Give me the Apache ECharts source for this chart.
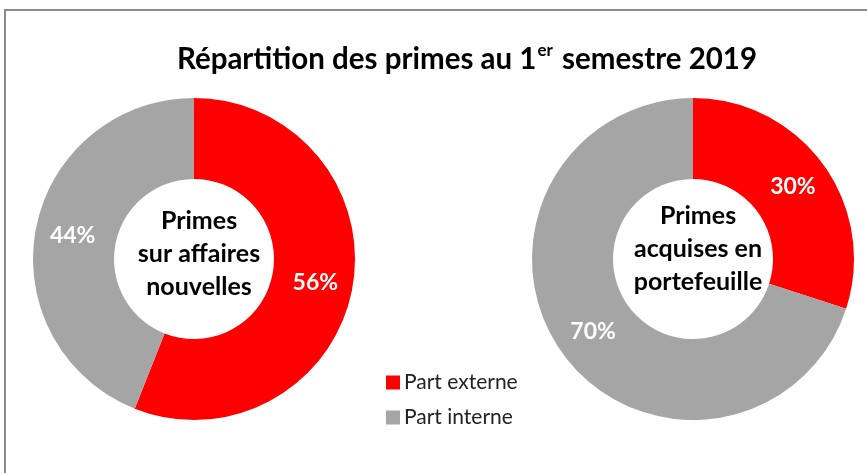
<!DOCTYPE html>
<html>
<head>
<meta charset="utf-8">
<script src="https://cdn.jsdelivr.net/npm/echarts@6/dist/echarts.min.js"></script>
<style>
  html, body { margin: 0; padding: 0; background: #fff; }
  #chart { width: 867px; height: 473px; }
</style>
</head>
<body>
<div id="chart"></div>
<script>
// données
const categories = ['Part externe', 'Part interne']
const nouvelles = [56, 44]
const portefeuille = [30, 70]
const colors = ['#FF0000', '#A5A5A5']

const FONT = 'Lato'

const chart = echarts.init(document.getElementById('chart'))

function donut(name, values, cx) {
  return {
    name: name,
    type: 'pie',
    center: [cx, 259],
    radius: [80, 161],
    startAngle: 90,
    clockwise: true,
    silent: true,
    label: {
      show: true,
      position: 'inside',
      formatter: '{c}%',
      color: '#fff',
      fontFamily: FONT,
      fontWeight: 'bold',
      fontSize: 23
    },
    labelLine: { show: false },
    itemStyle: { borderWidth: 0 },
    data: categories.map((c, i) => ({ name: c, value: values[i] }))
  }
}

const option = {
  color: colors,
  animation: false,
  title: [
    {
      text: '{a|Répartition des primes au 1}{s|er}{a| semestre 2019}',
      left: 462,
      top: 37,
      textAlign: 'center',
      textStyle: {
        rich: {
          a: { fontFamily: FONT, fontWeight: 'bold', fontSize: 29.5, color: '#000', lineHeight: 34 },
          s: { fontFamily: FONT, fontWeight: 'bold', fontSize: 17, color: '#000', verticalAlign: 'top', lineHeight: 34, padding: [0, 2, 14, 1] }
        }
      }
    },
    {
      text: 'Primes\nsur affaires\nnouvelles',
      left: 194,
      top: 199,
      textAlign: 'center',
      textStyle: { fontFamily: FONT, fontWeight: 'bold', fontSize: 25, color: '#000', lineHeight: 33 }
    },
    {
      text: 'Primes\nacquises en\nportefeuille',
      left: 693,
      top: 194,
      textAlign: 'center',
      textStyle: { fontFamily: FONT, fontWeight: 'bold', fontSize: 25, color: '#000', lineHeight: 33 }
    }
  ],
  legend: {
    orient: 'vertical',
    left: 381,
    top: 367,
    icon: 'rect',
    itemWidth: 14,
    itemHeight: 14,
    itemGap: 14,
    selectedMode: false,
    data: categories,
    textStyle: { fontFamily: FONT, fontSize: 21, color: '#222', padding: [0, 0, 0, -1] }
  },
  graphic: [
    {
      type: 'rect',
      shape: { x: 5, y: 10, width: 900, height: 500 },
      style: { fill: 'none', stroke: '#8c8c8c', lineWidth: 2 },
      silent: true
    }
  ],
  series: [
    donut('Primes sur affaires nouvelles', nouvelles, 194),
    donut('Primes acquises en portefeuille', portefeuille, 693)
  ]
}

chart.setOption(option)
</script>
</body>
</html>
